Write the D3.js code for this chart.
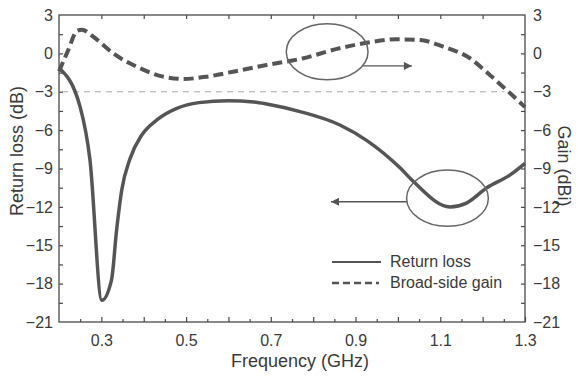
<!DOCTYPE html>
<html>
<head>
<meta charset="utf-8">
<script src="https://cdn.jsdelivr.net/npm/d3@7"></script>
<style>
  body { margin: 0; background: #fff; }
  text { font-family: Arial, "Liberation Sans", sans-serif; fill: #3a3a3a; }
</style>
</head>
<body>
<svg id="chart"></svg>
<script>
const width = 582
const height = 376
const margin = { top: 15, right: 57, bottom: 54, left: 59 }

// data (GHz, dB)
const rlFreq = [0.2, 0.25, 0.273, 0.301, 0.324, 0.336, 0.348, 0.368, 0.395, 0.431, 0.478, 0.53, 0.6, 0.66, 0.69, 0.769, 0.863, 0.926, 1.005, 1.036, 1.123, 1.162, 1.21, 1.265, 1.3]
const rlValue = [-1.15, -4.2, -8.3, -19.3, -17.7, -13.8, -10.7, -8.2, -6.4, -5.2, -4.3, -3.85, -3.7, -3.8, -3.95, -4.55, -5.6, -6.8, -8.95, -10.0, -12.0, -11.7, -10.5, -9.5, -8.6]
const gainFreq = [0.2, 0.222, 0.242, 0.254, 0.281, 0.328, 0.391, 0.446, 0.493, 0.549, 0.611, 0.69, 0.777, 0.856, 0.934, 0.997, 1.052, 1.107, 1.17, 1.217, 1.265, 1.3]
const gainValue = [-1.4, 0.27, 1.75, 1.85, 1.3, 0.0, -1.16, -1.82, -2.0, -1.82, -1.43, -0.91, -0.38, 0.35, 0.87, 1.1, 1.05, 0.52, -0.38, -1.69, -3.12, -4.2]
const xLabels = [0.3, 0.5, 0.7, 0.9, 1.1, 1.3]
const yLabels = [3, 0, -3, -6, -9, -12, -15, -18, -21]
const refLevel = -3
const refSpan = [0.2, 1.25]

// annotation ellipses and arrows, in data units
const ellipses = [
  { f: 0.833, v: 0.13, df: 0.0965, dv: 2.19 },
  { f: 1.117, v: -11.32, df: 0.0965, dv: 2.2 }
]
const arrows = [
  { f0: 0.918, f1: 1.033, v: -0.98 },
  { f0: 1.021, f1: 0.842, v: -11.6 }
]

const x = d3.scaleLinear().domain([0.2, 1.3]).range([margin.left, width - margin.right])
const y = d3.scaleLinear().domain([-21, 3]).range([height - margin.bottom, margin.top])
const y2 = d3.scaleLinear().domain([-21, 3]).range([height - margin.bottom, margin.top])

const svg = d3.select("#chart")
              .attr("width", width)
              .attr("height", height)

svg.append("defs").append("marker")
   .attr("id", "head")
   .attr("viewBox", "0 0 10 10")
   .attr("refX", 10).attr("refY", 5)
   .attr("markerWidth", 10).attr("markerHeight", 8)
   .attr("markerUnits", "userSpaceOnUse")
   .attr("orient", "auto")
   .append("path")
   .attr("d", "M0,0 L10,5 L0,10 Z")
   .attr("fill", "#555")

const axisColor = "#4a4a4a"
const x0 = margin.left, x1 = width - margin.right
const yTop = margin.top, yBot = height - margin.bottom

// frame
svg.append("rect")
   .attr("x", x0).attr("y", yTop)
   .attr("width", x1 - x0).attr("height", yBot - yTop)
   .attr("fill", "none").attr("stroke", axisColor).attr("stroke-width", 1.3)

function styleAxis(g) {
  g.select(".domain").remove()
  g.selectAll(".tick line").attr("stroke", axisColor).attr("stroke-width", 1.2)
  g.selectAll(".tick text").attr("font-size", 16).attr("fill", "#3a3a3a")
}

// bottom: minor ticks every 0.05, major every 0.1, labels at xLabels
const xMinor = d3.range(0.25, 1.3, 0.1)
const xMajor = d3.range(0.3, 1.31, 0.1)
svg.append("g").attr("transform", `translate(0,${yBot})`)
   .call(d3.axisBottom(x).tickValues(xMinor).tickSize(-3).tickFormat(""))
   .call(styleAxis)
svg.append("g").attr("transform", `translate(0,${yBot})`)
   .call(d3.axisBottom(x).tickValues(xMajor).tickSize(-5)
     .tickFormat(d => xLabels.some(l => Math.abs(l - d) < 1e-6) ? d3.format(".1f")(d) : "")
     .tickPadding(13))
   .call(styleAxis)

// top
svg.append("g").attr("transform", `translate(0,${yTop})`)
   .call(d3.axisTop(x).tickValues(d3.range(0.3, 1.29, 0.1)).tickSize(-4).tickFormat(""))
   .call(styleAxis)

// left
const yTicks = d3.range(-19.5, 3, 1.5)
svg.append("g").attr("transform", `translate(${x0},0)`)
   .call(d3.axisLeft(y).tickValues(yTicks).tickSize(-4).tickFormat(""))
   .call(styleAxis)
svg.append("g").attr("transform", `translate(${x0},0)`)
   .call(d3.axisLeft(y).tickValues(yLabels).tickSize(0).tickPadding(6))
   .call(styleAxis)

// right
svg.append("g").attr("transform", `translate(${x1},0)`)
   .call(d3.axisRight(y2).tickValues(yTicks).tickSize(-4).tickFormat(""))
   .call(styleAxis)
svg.append("g").attr("transform", `translate(${x1},0)`)
   .call(d3.axisRight(y2).tickValues(yLabels).tickSize(0).tickPadding(8))
   .call(styleAxis)

// axis titles
svg.append("text")
   .attr("x", 300).attr("y", 367)
   .attr("text-anchor", "middle").attr("font-size", 18)
   .text("Frequency (GHz)")
svg.append("text")
   .attr("transform", "translate(23,151) rotate(-90)")
   .attr("text-anchor", "middle").attr("font-size", 18)
   .text("Return loss (dB)")
svg.append("text")
   .attr("transform", "translate(558,166) rotate(90)")
   .attr("text-anchor", "middle").attr("font-size", 18)
   .text("Gain (dBi)")

// -3 dB reference line
svg.append("line")
   .attr("x1", x(refSpan[0]) + 3).attr("x2", x(refSpan[1]))
   .attr("y1", y(refLevel)).attr("y2", y(refLevel))
   .attr("stroke", "#aaa").attr("stroke-width", 1)
   .attr("stroke-dasharray", "6,5")

const line = d3.line().curve(d3.curveMonotoneX)

svg.append("path")
   .attr("d", line(rlFreq.map((f, i) => [x(f), y(rlValue[i])])))
   .attr("fill", "none").attr("stroke", "#555").attr("stroke-width", 3.5)
   .attr("stroke-linejoin", "round")

svg.append("path")
   .attr("d", line(gainFreq.map((f, i) => [x(f), y2(gainValue[i])])))
   .attr("fill", "none").attr("stroke", "#555").attr("stroke-width", 4)
   .attr("stroke-dasharray", "10,5")

// annotations
svg.selectAll("ellipse.note")
   .data(ellipses)
   .join("ellipse")
   .attr("class", "note")
   .attr("cx", d => x(d.f)).attr("cy", d => y(d.v))
   .attr("rx", d => x(d.f + d.df) - x(d.f))
   .attr("ry", d => y(d.v - d.dv) - y(d.v))
   .attr("fill", "none").attr("stroke", "#666").attr("stroke-width", 1.5)

svg.selectAll("line.arrow")
   .data(arrows)
   .join("line")
   .attr("class", "arrow")
   .attr("x1", d => x(d.f0)).attr("x2", d => x(d.f1))
   .attr("y1", d => y(d.v)).attr("y2", d => y(d.v))
   .attr("stroke", "#555").attr("stroke-width", 1.3)
   .attr("marker-end", "url(#head)")

// legend
const legend = svg.append("g")
legend.append("line")
      .attr("x1", 332).attr("x2", 381).attr("y1", 262).attr("y2", 262)
      .attr("stroke", "#555").attr("stroke-width", 2)
legend.append("text").attr("x", 390).attr("y", 267).attr("font-size", 16).text("Return loss")
legend.append("line")
      .attr("x1", 332).attr("x2", 379).attr("y1", 283).attr("y2", 283)
      .attr("stroke", "#555").attr("stroke-width", 2.5)
      .attr("stroke-dasharray", "7,4")
legend.append("text").attr("x", 390).attr("y", 288).attr("font-size", 16).text("Broad-side gain")
</script>
</body>
</html>
